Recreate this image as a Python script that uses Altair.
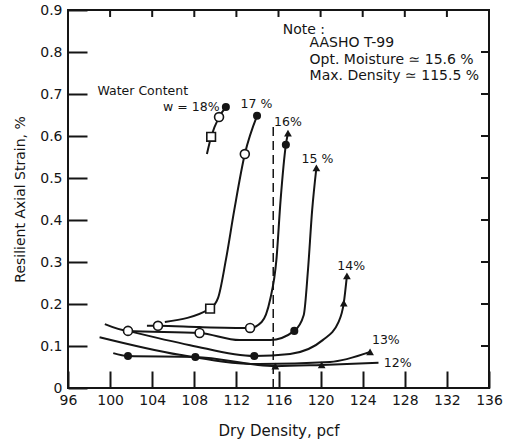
import altair as alt
import pandas as pd

# ---- data ----
w18_x = [109.2, 109.6, 110.35, 111.0]
w18_y = [0.557, 0.598, 0.645, 0.669]
w18_m = ["none", "osq", "oc", "fc"]

w17_x = [105.2, 109.5, 110.25, 111.0, 111.8, 112.8, 113.96]
w17_y = [0.157, 0.189, 0.214, 0.305, 0.424, 0.557, 0.648]
w17_m = ["none", "osq", "none", "none", "none", "oc", "fc"]

w16_x = [103.5, 104.55, 108.5, 113.3, 114.4, 115.2, 115.8, 116.2, 116.7, 116.9]
w16_y = [0.148, 0.148, 0.145, 0.143, 0.157, 0.21, 0.305, 0.448, 0.579, 0.607]
w16_m = ["none", "oc", "none", "oc", "none", "none", "none", "none", "fc", "tri"]

w15_x = [99.5, 101.7, 108.5, 112.3, 115.2, 117.5, 118.4, 118.8, 119.2, 119.6]
w15_y = [0.152, 0.136, 0.131, 0.114, 0.114, 0.136, 0.174, 0.281, 0.424, 0.524]
w15_m = ["none", "oc", "oc", "none", "none", "fc", "none", "none", "none", "tri"]

w14_x = [101.7, 107.6, 113.7, 117.1, 120.2, 121.7, 122.2, 122.5]
w14_y = [0.136, 0.102, 0.076, 0.081, 0.114, 0.157, 0.202, 0.267]
w14_m = ["none", "none", "fc", "none", "none", "none", "tri", "tri"]

w13_x = [99.0, 106.6, 114.2, 120.9, 124.7]
w13_y = [0.121, 0.079, 0.057, 0.062, 0.086]
w13_m = ["none", "none", "none", "none", "tri"]

w12_x = [100.3, 101.7, 108.1, 115.7, 120.1, 125.5]
w12_y = [0.083, 0.076, 0.074, 0.052, 0.055, 0.06]
w12_m = ["none", "fc", "fc", "tri", "tri", "none"]

curve_names = ["18%", "17%", "16%", "15%", "14%", "13%", "12%"]
curve_x = [w18_x, w17_x, w16_x, w15_x, w14_x, w13_x, w12_x]
curve_y = [w18_y, w17_y, w16_y, w15_y, w14_y, w13_y, w12_y]
curve_m = [w18_m, w17_m, w16_m, w15_m, w14_m, w13_m, w12_m]

# curve labels
lab_text = ["w = 18%", "17 %", "16%", "15 %", "14%", "13%", "12%"]
lab_x = [110.4, 113.9, 116.9, 119.7, 122.9, 126.2, 126.0]
lab_y = [0.669, 0.676, 0.633, 0.545, 0.29, 0.114, 0.06]
lab_align = ["right", "center", "center", "center", "center", "center", "left"]

# optimum density reference line
max_density = [115.5]
dash_top = [0.63]

# note block
note_text = ["Note :", "AASHO T-99", "Opt. Moisture \u2243 15.6 %", "Max. Density \u2243 115.5 %"]
note_x = [116.4, 118.95, 118.95, 118.95]
note_y = [0.853, 0.822, 0.781, 0.743]

wc_text = ["Water Content"]
wc_x = [98.8]
wc_y = [0.707]

x_ticks = [96, 100, 104, 108, 112, 116, 120, 124, 128, 132, 136]
y_ticks = [0, 0.1, 0.2, 0.3, 0.4, 0.5, 0.6, 0.7, 0.8, 0.9]

W, H = 421, 378
X0, X1 = 96, 136
Y0, Y1 = 0, 0.9
FONT = "DejaVu Sans"
INK = "#151515"

# ---- build tables ----
rows = []
for name, xs_, ys_, ms_ in zip(curve_names, curve_x, curve_y, curve_m):
    for i, (xv, yv, mv) in enumerate(zip(xs_, ys_, ms_)):
        rows.append({"kind": "curve", "curve": name, "i": i, "x": xv, "y": yv, "m": mv})

# short inward ticks on the top and right frame edges (pixel lengths -> data units)
px_y = (Y1 - Y0) / H
px_x = (X1 - X0) / W
for v in x_ticks[1:-1]:
    rows.append({"kind": "tick", "curve": f"t{v}", "i": 0, "x": v, "y": Y1, "m": "none"})
    rows.append({"kind": "tick", "curve": f"t{v}", "i": 1, "x": v, "y": Y1 - 7 * px_y, "m": "none"})
for v in y_ticks[1:-1]:
    rows.append({"kind": "tick", "curve": f"r{v}", "i": 0, "x": X1, "y": v, "m": "none"})
    rows.append({"kind": "tick", "curve": f"r{v}", "i": 1, "x": X1 - 8 * px_x, "y": v, "m": "none"})
df = pd.DataFrame(rows)

labels = pd.DataFrame({"t": lab_text, "x": lab_x, "y": lab_y, "a": lab_align})
notes = pd.DataFrame({"t": note_text, "x": note_x, "y": note_y})
wc = pd.DataFrame({"t": wc_text, "x": wc_x, "y": wc_y})
dash = pd.DataFrame({"x": max_density, "y0": [0], "y1": dash_top})

xs = alt.Scale(domain=[X0, X1], nice=False, zero=False)
ys = alt.Scale(domain=[Y0, Y1], nice=False)

# axes pulled inside the frame so that their ticks point inward
X = alt.X("x:Q", scale=xs, title="Dry Density, pcf",
          axis=alt.Axis(values=x_ticks, ticks=True, tickSize=17, tickWidth=2,
                        tickColor=INK, offset=-17, domain=False, grid=False,
                        labelFontSize=14, labelPadding=5, titleFontSize=15,
                        titlePadding=16, titleFontWeight="normal", labelFont=FONT,
                        titleFont=FONT, labelColor=INK, titleColor=INK,
                        labelFlush=False))
Y = alt.Y("y:Q", scale=ys, title="Resilient Axial Strain, %",
          axis=alt.Axis(values=y_ticks, ticks=True, tickSize=19, tickWidth=2,
                        tickColor=INK, offset=-19, domain=False, grid=False,
                        labelFontSize=14, labelPadding=6, titleFontSize=14,
                        titlePadding=12, titleFontWeight="normal", labelFont=FONT,
                        titleFont=FONT, labelColor=INK, titleColor=INK,
                        labelFlush=False,
                        labelExpr="datum.value == 0 ? '0' : format(datum.value, '.1f')"))

base = alt.Chart(df)
lines = base.transform_filter("datum.kind == 'curve'").mark_line(
    interpolate="monotone", color=INK, strokeWidth=2).encode(
    x=X, y=Y, detail="curve:N", order="i:Q")
ticks = base.transform_filter("datum.kind == 'tick'").mark_line(
    interpolate="linear", color=INK, strokeWidth=2).encode(
    x=X, y=Y, detail="curve:N", order="i:Q")

pts = base.transform_filter("datum.kind == 'curve'")
fc = pts.transform_filter("datum.m == 'fc'").mark_point(
    shape="circle", filled=True, color=INK, size=65, opacity=1).encode(x=X, y=Y)
oc = pts.transform_filter("datum.m == 'oc'").mark_point(
    shape="circle", filled=True, fill="white", stroke=INK, strokeWidth=1.6,
    size=80, opacity=1).encode(x=X, y=Y)
osq = pts.transform_filter("datum.m == 'osq'").mark_point(
    shape="square", filled=True, fill="white", stroke=INK, strokeWidth=1.6,
    size=75, opacity=1).encode(x=X, y=Y)
tri = pts.transform_filter("datum.m == 'tri'").mark_point(
    shape="triangle-up", filled=True, color=INK, size=60, opacity=1).encode(x=X, y=Y)

dashed = alt.Chart(dash).mark_rule(color=INK, strokeWidth=1.5, strokeDash=[9, 5]).encode(
    x=alt.X("x:Q", scale=xs), y=alt.Y("y0:Q", scale=ys), y2="y1:Q")

def lab_layer(a):
    return alt.Chart(labels).transform_filter(f"datum.a == '{a}'").mark_text(
        align=a, baseline="middle", font=FONT, fontSize=12.5, color=INK).encode(
        x=alt.X("x:Q", scale=xs), y=alt.Y("y:Q", scale=ys), text="t:N")

note = alt.Chart(notes).mark_text(
    align="left", baseline="middle", font=FONT, fontSize=14, color=INK).encode(
    x=alt.X("x:Q", scale=xs), y=alt.Y("y:Q", scale=ys), text="t:N")
wct = alt.Chart(wc).mark_text(
    align="left", baseline="middle", font=FONT, fontSize=12.5, color=INK).encode(
    x=alt.X("x:Q", scale=xs), y=alt.Y("y:Q", scale=ys), text="t:N")

chart = alt.layer(
    lines, ticks, dashed, fc, oc, osq, tri,
    lab_layer("left"), lab_layer("right"), lab_layer("center"), note, wct
).properties(
    width=W, height=H,
    autosize=alt.AutoSizeParams(type="none"),
    padding={"left": 68, "top": 10, "right": 17, "bottom": 56},
    background="white",
).configure_view(stroke=INK, strokeWidth=2)

chart.save("out.html", embed_options={"renderer": "svg", "actions": False})
